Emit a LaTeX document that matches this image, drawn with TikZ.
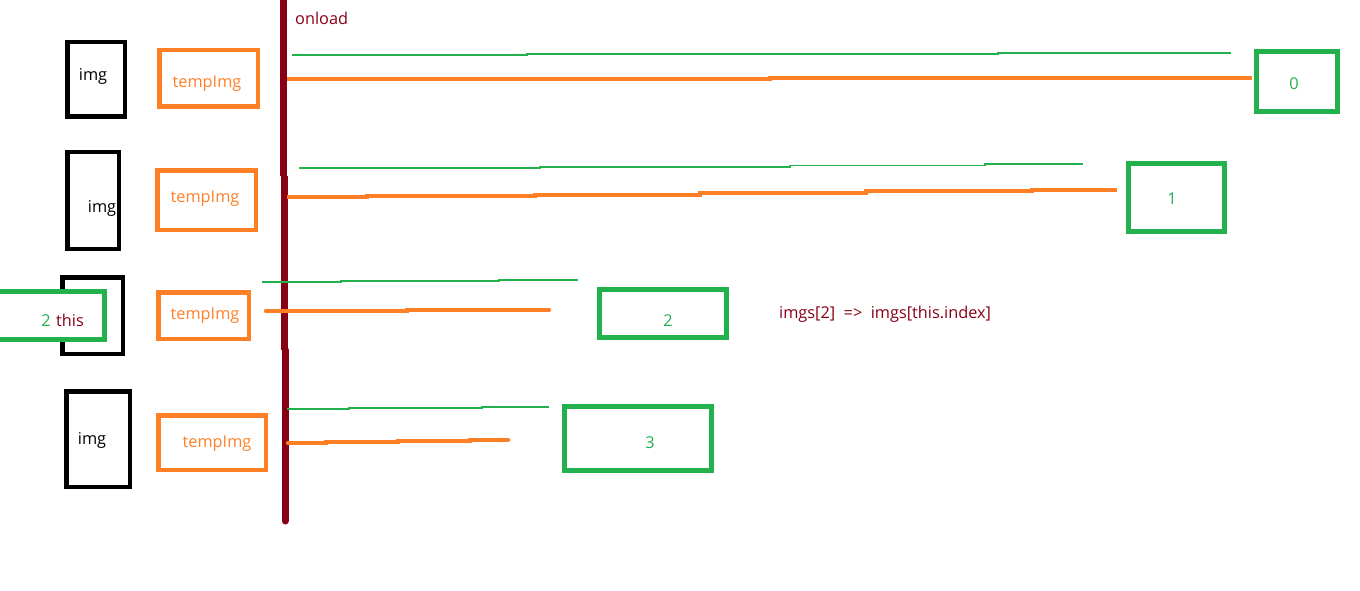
\documentclass[tikz,border=0pt]{standalone}
\usepackage{fontspec}
\setmainfont{Open Sans}
\definecolor{porange}{HTML}{FF7F27}
\definecolor{pgreen}{HTML}{22B14C}
\definecolor{pred}{HTML}{880015}
\begin{document}
\begin{tikzpicture}[x=1pt,y=-1pt,
  bbox/.style={draw=black,line width=4.5pt,inner sep=0pt},
  obox/.style={draw=porange,line width=4.5pt,inner sep=0pt},
  gbox/.style={draw=pgreen,line width=5pt,inner sep=0pt},
  txt/.style={font=\fontsize{16.3}{19}\selectfont,inner sep=0pt},
  otxt/.style={txt,text=porange},
  gtxt/.style={txt,text=pgreen},
  rtxt/.style={txt,text=pred},
  gline/.style={draw=pgreen,line width=1.2pt},
  oline/.style={draw=porange,line width=4.5pt},
  rline/.style={draw=pred,line width=7pt}]
\useasboundingbox (0,0) rectangle (1360,591);
% black img boxes
\node[bbox,minimum width=57.5,minimum height=74.5] (img1) at (96,79.5) {};
\node[bbox,minimum width=51.5,minimum height=96.5] (img2) at (93,200.5) {};
\node[bbox,minimum width=60.5,minimum height=76.5] (img3) at (92.5,315.5) {};
\node[bbox,minimum width=63.5,minimum height=95.5] (img4) at (98,439) {};
\node[txt,anchor=mid] at (93,78) {img};
\node[txt,anchor=mid] at (102,210) {img};
\node[txt,anchor=mid] at (92,442) {img};
% this box
\node[gbox,fill=white,minimum width=112,minimum height=48] (this) at (48.5,315.5) {};
\node[gtxt,anchor=mid] (two) at (46,324) {2};
\node[rtxt,anchor=mid west] at (56,324) {this};
% tempImg boxes
\node[obox,minimum width=98.5,minimum height=56.5] (t1) at (208.5,78.5) {};
\node[obox,minimum width=98.5,minimum height=59.5] (t2) at (206.5,200) {};
\node[obox,minimum width=90.5,minimum height=46.5] (t3) at (203.5,315.5) {};
\node[obox,minimum width=107.5,minimum height=54.5] (t4) at (212,442.5) {};
\node[otxt,anchor=mid] at (207,85) {tempImg};
\node[otxt,anchor=mid] at (205,200) {tempImg};
\node[otxt,anchor=mid] at (205,317) {tempImg};
\node[otxt,anchor=mid] at (217,445) {tempImg};
% green index boxes
\node[gbox,minimum width=81,minimum height=60] (g0) at (1297,81.5) {};
\node[gbox,minimum width=96,minimum height=68] (g1) at (1176.5,197.5) {};
\node[gbox,minimum width=127,minimum height=48] (g2) at (663,313.5) {};
\node[gbox,minimum width=147,minimum height=64] (g3) at (638,438.5) {};
\node[gtxt,anchor=mid] at (1294,87) {0};
\node[gtxt,anchor=mid] at (1172,202) {1};
\node[gtxt,anchor=mid] at (668,324) {2};
\node[gtxt,anchor=mid] at (650,446) {3};
% labels
\node[rtxt,anchor=mid west] (onload) at (295,22) {onload};
\node[rtxt,anchor=mid west] (expr) at (779,316) {imgs[2]\ \ =>\ \ imgs[this.index]};
% vertical onload line
\draw[rline] (283,0) -- (283,176);
\draw[rline] (284,176) -- (284,350);
\draw[rline,line cap=round] (285,350) -- (285,521);
% green thin lines
\draw[gline] (292,55) -- (527,55) -- (527,54) -- (998,54) -- (998,53) -- (1231,53);
\draw[gline] (299,168) -- (540,168) -- (540,167) -- (790,167) -- (790,165.5) -- (985,165.5) -- (985,164) -- (1083,164);
\draw[gline] (262,282) -- (341,282) -- (341,281) -- (499,281) -- (499,280) -- (578,280);
\draw[gline] (287,409) -- (349,409) -- (349,408) -- (482,408) -- (482,407) -- (549,407);
% orange thick lines
\draw[oline] (287,79) -- (770,79) -- (770,78) -- (1252,78);
\draw[oline] (287,197) -- (367,197) -- (367,196) -- (535,196) -- (535,195) -- (700,195) -- (700,193) -- (866,193) -- (866,191) -- (1032,191) -- (1032,190) -- (1117,190);
\draw[oline,line cap=round] (266,311) -- (407,311) -- (407,310) -- (549,310);
\draw[oline,line cap=round] (288,443) -- (326,443) -- (326,442) -- (398,442) -- (398,441) -- (470,441) -- (470,440) -- (508,440);
\end{tikzpicture}
\end{document}
